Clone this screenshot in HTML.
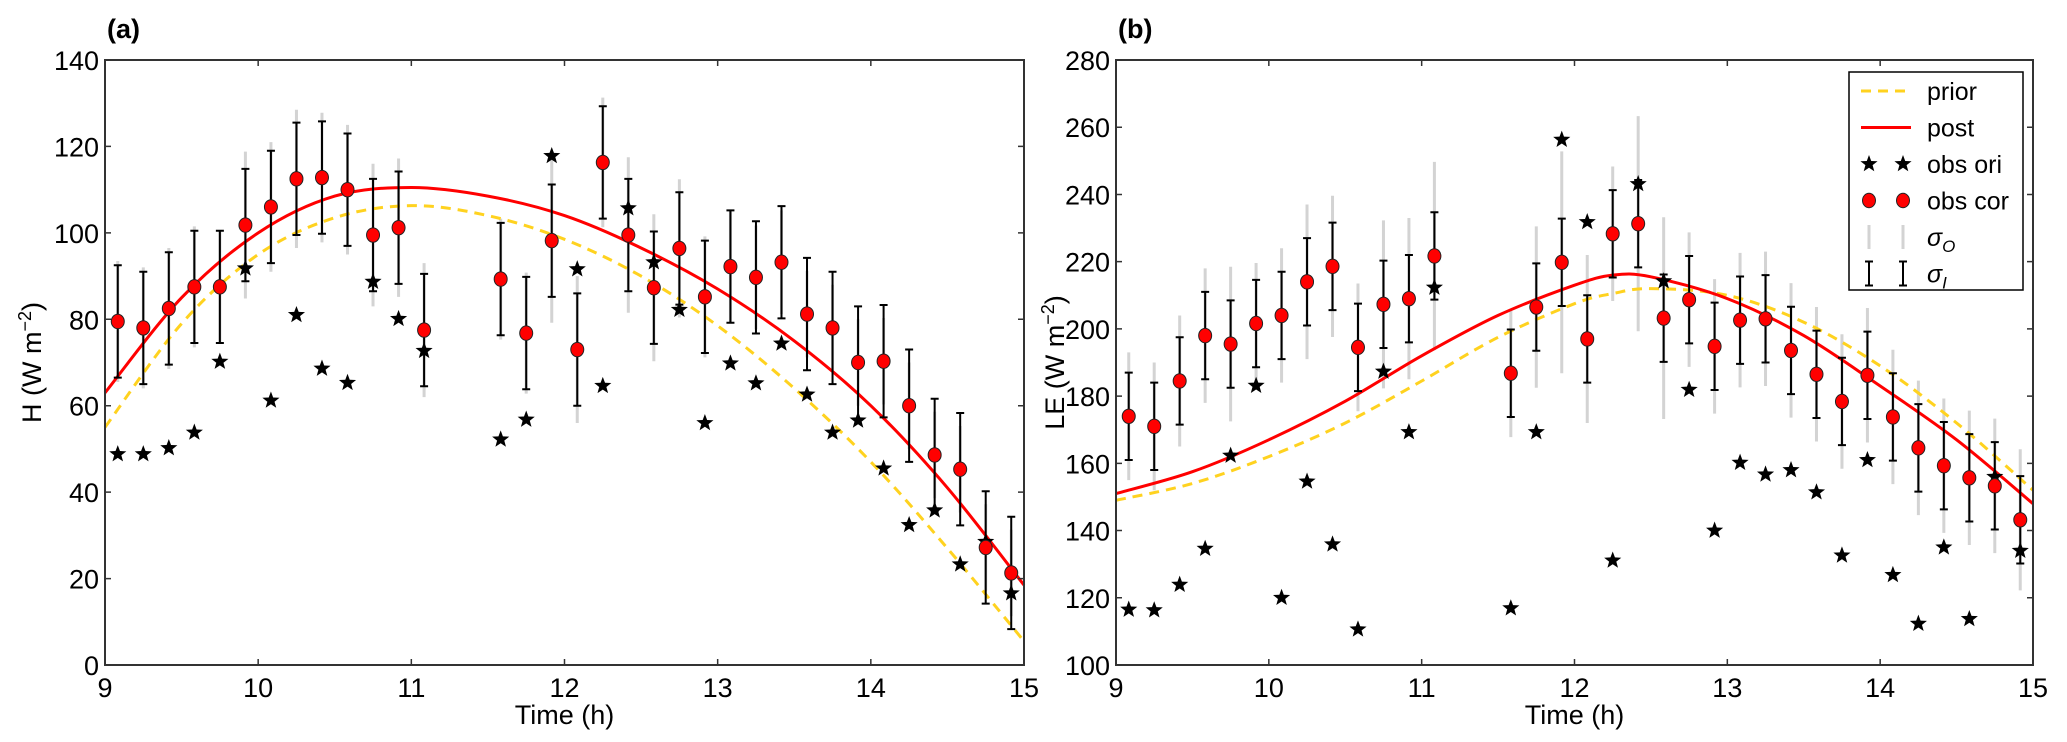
<!DOCTYPE html>
<html><head><meta charset="utf-8"><style>
html,body{margin:0;padding:0;background:#fff}
svg{display:block}
text{font-family:"Liberation Sans","DejaVu Sans",sans-serif;fill:#000}
</style></head><body>
<svg id="chart" width="2067" height="742" viewBox="0 0 2067 742" xmlns="http://www.w3.org/2000/svg"></svg>
<script>
const hoursIdx=[0,1,2,3,4,5,6,7,8,9,10,11,12,15,16,17,18,19,20,21,22,23,24,25,26,27,28,29,30,31,32,33,34,35];
const aCor=[79.5,78,82.5,87.5,87.5,101.8,106,112.5,112.8,110,99.5,101.2,77.5,89.3,76.8,98.2,73,116.3,99.5,87.3,96.4,85.2,92.2,89.7,93.2,81.2,78,70,70.3,60,48.6,45.3,27.2,21.3];
const aOri=[48.8,48.8,50.2,53.8,70.2,91.8,61.2,81,68.6,65.3,88.7,80.1,72.7,52.2,56.8,117.8,91.6,64.6,105.7,93.2,82.2,56,69.8,65.2,74.4,62.6,53.8,56.6,45.5,32.4,35.8,23.3,28.5,16.6];
const aSigI=[13,13,13,13,13,13,13,13,13,13,13,13,13,13,13,13,13,13,13,13,13,13,13,13,13,13,13,13,13,13,13,13,13,13];
const aSigO=[14,14,14,14,13,17,15,16,15,15,16.5,16,15.5,14,14,19,17,15,18,17,16,14,13,12,12,10,10,10,10,10,10,10,10,10];
const bCor=[174,171,184.5,198,195.5,201.6,204,214,218.6,194.5,207.3,209,221.7,186.8,206.5,219.8,197,228.3,231.3,203.2,208.7,194.8,202.6,203,193.6,186.5,178.4,186.2,173.8,164.6,159.3,155.7,153.3,143.2];
const bOri=[116.5,116.3,123.9,134.6,162.3,183.1,120,154.6,135.9,110.6,187.3,169.3,212.3,116.9,169.3,256.3,231.8,131.1,243.1,214.2,181.9,140,160.2,156.7,158,151.4,132.6,161,126.8,112.3,135,113.7,156,134];
const bSigI=[13,13,13,13,13,13,13,13,13,13,13,13,13,13,13,13,13,13,13,13,13,13,13,13,13,13,13,13,13,13,13,13,13,13];
const bSigO=[19,19,19.5,20,23,18,20,23,21,19,25,24,28,19,24,33,25,20,32,30,20,20,20,20,20,20,20,20,20,20,20,20,20,21];
const curveT=[9,9.5,10,10.5,11,11.5,12,12.5,13,13.5,14,14.5,15];
const aPost=[63,85,100,108.5,110.5,108.5,104,96.5,87,75,60,41,18.5];
const aPrior=[55,79,95,103.5,106.3,104,98.5,90,78.5,64,47,27,5.5];
const bCurveT=[9,9.5,10,10.5,11,11.5,12,12.25,12.5,13,13.5,14,14.5,15];
const bPost=[151,157.5,167,178.5,192,204,213,216,215.5,209,198,183,167,148];
const bPrior=[149,154,162,172,184.5,197.5,207.5,210.5,212,210,202,189,172,152];
const xTicks=[9,10,11,12,13,14,15];
const aYTicks=[0,20,40,60,80,100,120,140];
const bYTicks=[100,120,140,160,180,200,220,240,260,280];

const NS="http://www.w3.org/2000/svg";
const svg=document.getElementById('chart');
function mk(tag,attrs,parent){const e=document.createElementNS(NS,tag);for(const k in attrs)e.setAttribute(k,attrs[k]);(parent||svg).appendChild(e);return e;}
function starPath(cx,cy,r){let d='';for(let i=0;i<10;i++){const rr=i%2?r*0.42:r;const a=-Math.PI/2+i*Math.PI/5;d+=(i?'L':'M')+(cx+rr*Math.cos(a)).toFixed(2)+' '+(cy+rr*Math.sin(a)).toFixed(2);}return d+'Z';}
function smooth(p){
  let d='M'+p[0][0].toFixed(1)+' '+p[0][1].toFixed(1);
  for(let i=0;i<p.length-1;i++){
    const p0=p[i-1]||p[i],p1=p[i],p2=p[i+1],p3=p[i+2]||p[i+1];
    const c1=[p1[0]+(p2[0]-p0[0])/6,p1[1]+(p2[1]-p0[1])/6];
    const c2=[p2[0]-(p3[0]-p1[0])/6,p2[1]-(p3[1]-p1[1])/6];
    d+=`C${c1[0].toFixed(1)} ${c1[1].toFixed(1)} ${c2[0].toFixed(1)} ${c2[1].toFixed(1)} ${p2[0].toFixed(1)} ${p2[1].toFixed(1)}`;
  }
  return d;
}

function panel(cfg){
  const g=mk('g',{});
  
  
  const L=cfg.left,R=cfg.right,T=60,B=665;
  const xs=t=>L+(t-9)/6*(R-L);
  const ys=v=>B-(v-cfg.ymin)/(cfg.ymax-cfg.ymin)*(B-T);
  const pr=smooth(cfg.ct.map((t,i)=>[xs(t),ys(cfg.prior[i])]));
  const po=smooth(cfg.ct.map((t,i)=>[xs(t),ys(cfg.post[i])]));
  hoursIdx.forEach((k,i)=>{
    const t=9+1/12+k/6,x=xs(t),c=cfg.cor[i];
    const l=mk('line',{x1:x,x2:x,y1:ys(c-cfg.sigO[i]),y2:ys(c+cfg.sigO[i]),stroke:'#d3d3d3','stroke-width':3},g);
    
    
  });
  const lp=mk('path',{d:pr,fill:'none',stroke:'#ffd21f','stroke-width':3,'stroke-dasharray':'10,7'},g);
  
  
  const lq=mk('path',{d:po,fill:'none',stroke:'#ff0000','stroke-width':3},g);
  
  
  hoursIdx.forEach((k,i)=>{
    const t=9+1/12+k/6,x=xs(t),c=cfg.cor[i];
    const y1=ys(c+cfg.sigI[i]),y2=ys(c-cfg.sigI[i]);
    const eb=mk('path',{d:`M${x} ${y1}V${y2}M${x-4} ${y1}H${x+4}M${x-4} ${y2}H${x+4}`,stroke:'#000','stroke-width':2,fill:'none'},g);
    
    
  });
  hoursIdx.forEach((k,i)=>{
    const t=9+1/12+k/6,x=xs(t);
    const s=mk('path',{d:starPath(x,ys(cfg.ori[i]),9),fill:'#000'},g);
    
    
  });
  hoursIdx.forEach((k,i)=>{
    const t=9+1/12+k/6,x=xs(t);
    const c=mk('ellipse',{cx:x,cy:ys(cfg.cor[i]),rx:6.5,ry:7.2,fill:'#ff0000',stroke:'#222','stroke-width':1},g);
    
    
  });
  const fr=mk('rect',{x:L,y:T,width:R-L,height:B-T,fill:'none',stroke:'#333','stroke-width':2},g);
  
  
  xTicks.forEach(t=>{
    const x=xs(t);
    mk('path',{d:`M${x} ${B}v-6M${x} ${T}v6`,stroke:'#333','stroke-width':1.5},g);
    const tx=mk('text',{x:x,y:B+32,'font-size':27,'text-anchor':'middle'},g);
    tx.textContent=t;
    
    
  });
  cfg.yt.forEach(v=>{
    const y=ys(v);
    mk('path',{d:`M${L} ${y}h6M${R} ${y}h-6`,stroke:'#333','stroke-width':1.5},g);
    const tx=mk('text',{x:L-6,y:y+10,'font-size':27,'text-anchor':'end'},g);
    tx.textContent=v;
    
    
  });
  const xl=mk('text',{x:(L+R)/2,y:724,'font-size':27,'text-anchor':'middle'},g);
  xl.textContent='Time (h)';
  
  
  const yl=mk('text',{x:0,y:0,'font-size':27,'text-anchor':'middle',transform:`translate(${cfg.ylx},${(T+B)/2}) rotate(-90)`},g);
  yl.innerHTML=cfg.ylab+' (W m<tspan dy="-10" font-size="18">−2</tspan><tspan dy="10">)</tspan>';
  
  
  const pl=mk('text',{x:L+2,y:38,'font-size':27,'font-weight':'bold'},g);
  pl.textContent=cfg.plab;
  
  
}
panel({name:'panel-a-sensible-heat',left:105,right:1024,ymin:0,ymax:140,cor:aCor,ori:aOri,sigI:aSigI,sigO:aSigO,ct:curveT,post:aPost,prior:aPrior,yt:aYTicks,ylab:'H',plab:'(a)',ylx:41});
panel({name:'panel-b-latent-heat',left:1116,right:2033,ymin:100,ymax:280,cor:bCor,ori:bOri,sigI:bSigI,sigO:bSigO,ct:bCurveT,post:bPost,prior:bPrior,yt:bYTicks,ylab:'LE',plab:'(b)',ylx:1064});

const lg=mk('g',{});


mk('rect',{x:1849,y:72,width:174,height:218,fill:'#fff',stroke:'#000','stroke-width':1.5},lg);
const labels=['prior','post','obs ori','obs cor','σ','σ'];
const subs=['','','','','O','I'];
labels.forEach((lab,i)=>{
  const y=91+i*36.5;
  const x1=1869,x2=1903;
  if(i===0)mk('line',{x1:x1-8,x2:x2+8,y1:y,y2:y,stroke:'#ffd21f','stroke-width':3,'stroke-dasharray':'10,7'},lg);
  if(i===1)mk('line',{x1:x1-8,x2:x2+8,y1:y,y2:y,stroke:'#ff0000','stroke-width':3},lg);
  if(i===2){mk('path',{d:starPath(x1,y,9),fill:'#000'},lg);mk('path',{d:starPath(x2,y,9),fill:'#000'},lg);}
  if(i===3){[x1,x2].forEach(x=>mk('ellipse',{cx:x,cy:y,rx:6.5,ry:7.2,fill:'#f00',stroke:'#222'},lg));}
  if(i===4){[x1,x2].forEach(x=>mk('line',{x1:x,x2:x,y1:y-12,y2:y+12,stroke:'#d3d3d3','stroke-width':3},lg));}
  if(i===5){[x1,x2].forEach(x=>mk('path',{d:`M${x} ${y-12}V${y+12}M${x-4} ${y-12}H${x+4}M${x-4} ${y+12}H${x+4}`,stroke:'#000','stroke-width':2,fill:'none'},lg));}
  const t=mk('text',{x:1927,y:y+9,'font-size':25},lg);
  if(subs[i]){t.innerHTML='<tspan font-style="italic">σ</tspan><tspan dy="6" font-size="17" font-style="italic">'+subs[i]+'</tspan>';}
  else t.textContent=lab;
  
  
});
</script>
</body></html>
